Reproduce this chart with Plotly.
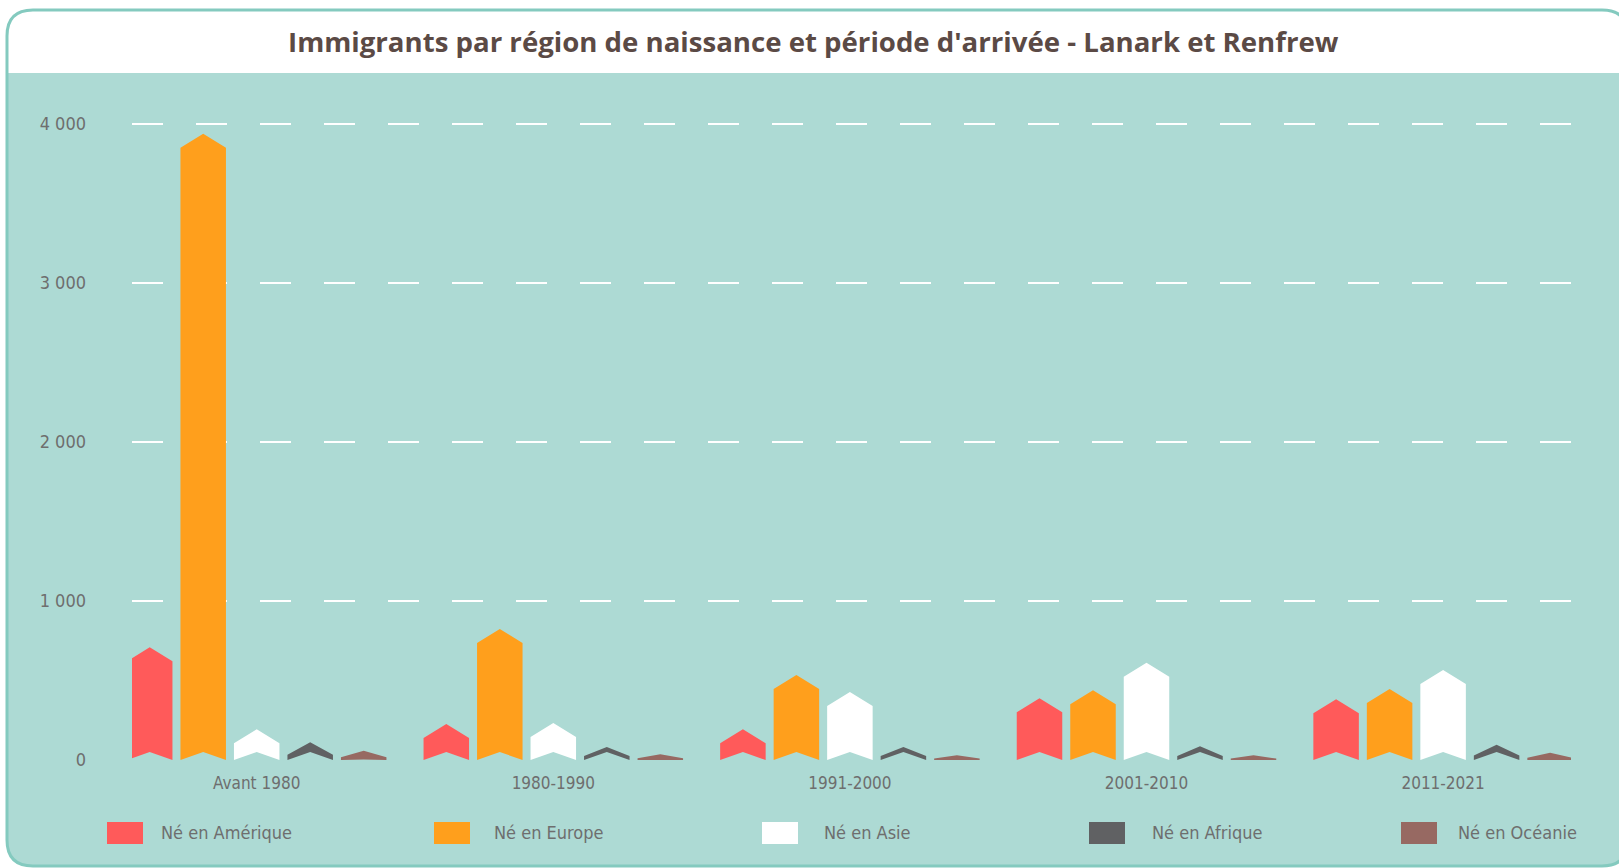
import plotly.graph_objects as go

# ---------------------------------------------------------------------------
# Données
# ---------------------------------------------------------------------------

PERIODES = ["Avant 1980", "1980-1990", "1991-2000", "2001-2010", "2011-2021"]

NE_AMERIQUE = [709, 226, 193, 388, 382]
NE_EUROPE = [3939, 824, 535, 438, 446]
NE_ASIE = [193, 233, 428, 612, 566]
NE_AFRIQUE = [111, 82, 82, 86, 96]
NE_OCEANIE = [58, 36, 30, 30, 46]

SERIES = ["Né en Amérique", "Né en Europe", "Né en Asie", "Né en Afrique", "Né en Océanie"]
VALEURS = [NE_AMERIQUE, NE_EUROPE, NE_ASIE, NE_AFRIQUE, NE_OCEANIE]
COULEURS = ["#ff5a5a", "#ff9f1c", "#ffffff", "#606163", "#976962"]

Y_TICKS = [0, 1000, 2000, 3000, 4000]
Y_TICKTEXT = ["0", "1 000", "2 000", "3 000", "4 000"]

TITRE = "Immigrants par région de naissance et période d'arrivée - Lanark et Renfrew"

# ---------------------------------------------------------------------------
# Mise en page (pixels)
# ---------------------------------------------------------------------------

W, H = 1619, 868
PLOT_L, PLOT_R, PLOT_T, PLOT_B = 132, 1571, 90, 760
PX_PAR_UNITE = 159 / 1000          # échelle verticale : 1000 = 159 px
PAS_CAT = 296.6                    # px entre deux périodes
PAS_BARRE = 53.5                   # px entre deux barres d'un groupe
LARG_BARRE = 45.5
Y_MAX = (PLOT_B - PLOT_T) / PX_PAR_UNITE
X_MIN = (PLOT_L - 256.7) / PAS_CAT
X_MAX = (PLOT_R - 256.7) / PAS_CAT

FOND = "#addad4"
BORDURE = "#84cabf"
TEXTE = "#6e6e6e"
POLICE = "DejaVu Sans Condensed, Roboto, sans-serif"


def px_x(px):
    return (px - PLOT_L) / (PLOT_R - PLOT_L)


def px_y(py):
    return (PLOT_B - py) / (PLOT_B - PLOT_T)


def chevron(xc, v):
    """Polygone d'une barre en forme de flèche (pointe en haut, encoche en bas)."""
    h = v * PX_PAR_UNITE
    pointe = min(14, 0.7 * h)
    encoche = min(8, max(0, 2 * (h - 9)))
    epaule = h - pointe
    demi = LARG_BARRE / 2 / PAS_CAT
    xl, xr = xc - demi, xc + demi
    k = PX_PAR_UNITE
    xs = [xl, xc, xr, xr, xc, xl, xl]
    ys = [0, encoche / k, 0, epaule / k, h / k, epaule / k, 0]
    return xs, ys


fig = go.Figure()

for i, (nom, vals, coul) in enumerate(zip(SERIES, VALEURS, COULEURS)):
    xs, ys = [], []
    for j, v in enumerate(vals):
        xc = j + (i - 2) * PAS_BARRE / PAS_CAT
        px, py = chevron(xc, v)
        xs += px + [None]
        ys += py + [None]
    fig.add_trace(go.Scatter(
        x=xs, y=ys,
        mode="lines",
        fill="toself",
        fillcolor=coul,
        line=dict(width=0, color=coul),
        name=nom,
        showlegend=False,
        hoverinfo="name",
    ))

# ---------------------------------------------------------------------------
# Carte arrondie + bandeau du titre
# ---------------------------------------------------------------------------

cl, ct, cr, cb, r = 7, 10, 1628, 866, 26


def chemin(points):
    out = []
    for cmd, pts in points:
        out.append(cmd + " ".join(f"{px_x(a):.5f},{px_y(b):.5f}" for a, b in pts))
    return " ".join(out)


carte = chemin([
    ("M", [(cl + r, ct)]), ("L", [(cr - r, ct)]), ("Q", [(cr, ct), (cr, ct + r)]),
    ("L", [(cr, cb - r)]), ("Q", [(cr, cb), (cr - r, cb)]),
    ("L", [(cl + r, cb)]), ("Q", [(cl, cb), (cl, cb - r)]),
    ("L", [(cl, ct + r)]), ("Q", [(cl, ct), (cl + r, ct)]),
]) + " Z"

bandeau = chemin([
    ("M", [(cl + r, ct)]), ("L", [(cr - r, ct)]), ("Q", [(cr, ct), (cr, ct + r)]),
    ("L", [(cr, 73)]), ("L", [(cl, 73)]),
    ("L", [(cl, ct + r)]), ("Q", [(cl, ct), (cl + r, ct)]),
]) + " Z"

shapes = [
    dict(type="path", xref="paper", yref="paper", path=carte, fillcolor=FOND,
         line=dict(width=0), layer="below"),
    dict(type="path", xref="paper", yref="paper", path=bandeau, fillcolor="white",
         line=dict(width=0), layer="below"),
    dict(type="path", xref="paper", yref="paper", path=carte, fillcolor="rgba(0,0,0,0)",
         line=dict(width=3, color=BORDURE), layer="below"),
]

# Légende dessinée à la main (carrés + libellés)
annotations = [
    dict(text=f"<b>{TITRE}</b>", xref="paper", yref="paper",
         x=px_x(813), y=px_y(41), xanchor="center", yanchor="middle",
         showarrow=False, font=dict(family="Open Sans, sans-serif", size=27.6, color="#5b4a45")),
]
LEG_CARRE = [107, 434, 762, 1089, 1401]
LEG_TEXTE = [159, 492, 822, 1150, 1456]
for nom, coul, xs, xt in zip(SERIES, COULEURS, LEG_CARRE, LEG_TEXTE):
    shapes.append(dict(type="rect", xref="paper", yref="paper",
                       x0=px_x(xs), x1=px_x(xs + 36), y0=px_y(844), y1=px_y(822),
                       fillcolor=coul, line=dict(width=0)))
    annotations.append(dict(text=nom, xref="paper", yref="paper",
                            x=px_x(xt), y=px_y(832), xanchor="left", yanchor="middle",
                            showarrow=False, font=dict(family=POLICE, size=18, color=TEXTE)))

fig.update_layout(
    width=W, height=H,
    margin=dict(l=PLOT_L, r=W - PLOT_R, t=PLOT_T, b=H - PLOT_B, pad=0),
    paper_bgcolor="white",
    plot_bgcolor="rgba(0,0,0,0)",
    showlegend=False,
    shapes=shapes,
    annotations=annotations,
    font=dict(family=POLICE, color=TEXTE),
    xaxis=dict(
        range=[X_MIN, X_MAX],
        tickvals=list(range(len(PERIODES))),
        ticktext=PERIODES,
        showgrid=False, zeroline=False, showline=False, ticks="",
        tickfont=dict(size=17, color=TEXTE),
        ticklabelstandoff=11,
        fixedrange=True,
    ),
    yaxis=dict(
        range=[0, Y_MAX],
        tickvals=Y_TICKS,
        ticktext=Y_TICKTEXT,
        showgrid=True, gridcolor="white", gridwidth=1.5, griddash="31px,33px",
        zeroline=False, showline=False, ticks="",
        tickfont=dict(size=18, color=TEXTE),
        ticklabelstandoff=45,
        fixedrange=True,
    ),
)

fig.write_html("out.html", config={"displayModeBar": False},
               post_script="document.body.style.margin='0';")
